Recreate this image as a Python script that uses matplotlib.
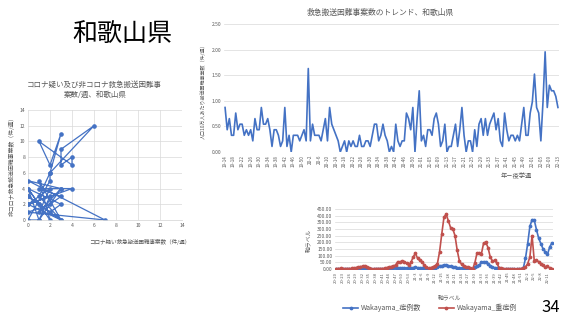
import matplotlib
matplotlib.use("Agg")
import matplotlib.pyplot as plt

plt.rcParams['font.family'] = ['Noto Sans CJK JP', 'DejaVu Sans']

# --- data ---
# scatter: corona-suspected vs non-corona cases per week (in order)
corona_x = [0, 1, 0, 2, 1, 3, 0, 2, 1, 3, 0, 7, 0, 2, 3, 1, 4, 0, 2, 1, 0, 2, 2, 6, 3,
            3, 4, 4, 1, 2, 3, 2, 1, 3, 0, 1, 2, 3, 0, 1, 3]
non_corona_y = [3, 2, 4, 0, 5, 0, 2, 4, 1, 4, 5, 0, 1, 2, 3, 4, 4, 2, 3, 0, 0, 5, 6, 12, 9,
                7, 8, 7, 10, 7, 11, 6, 3, 0, 3, 2, 1, 2, 4, 0, 4]

# trend: cases per week (per 100k = count * 0.1087), 19-14 .. 22-13
trend_counts = [8, 4, 6, 3, 3, 7, 4, 5, 5, 3, 4, 3, 4, 2, 6, 4, 4, 8, 5, 5,
                6, 4, 1, 4, 4, 3, 1, 2, 8, 1, 3, 0, 3, 3, 3, 2, 3, 4, 2, 15,
                2, 5, 3, 3, 3, 2, 4, 6, 2, 8, 5, 4, 3, 2, 0, 1, 2, 0, 2, 1,
                2, 1, 1, 3, 1, 1, 2, 2, 1, 3, 5, 5, 2, 3, 5, 3, 2, 0, 1, 0,
                5, 2, 1, 2, 2, 7, 6, 4, 8, 0, 6, 11, 2, 3, 1, 4, 4, 3, 6, 7,
                5, 1, 2, 5, 0, 1, 1, 3, 5, 1, 4, 8, 3, 0, 2, 2, 0, 4, 1, 5,
                6, 3, 6, 3, 5, 6, 7, 4, 6, 2, 1, 7, 4, 2, 3, 3, 2, 3, 2, 5,
                8, 3, 3, 7, 9, 14, 8, 7, 2, 9, 18, 8, 12, 11, 11, 10, 8]
trend_values = [c * 0.1087 for c in trend_counts]
trend_ticks = ["19-14", "19-18", "19-22", "19-26", "19-30", "19-34", "19-38", "19-42",
               "19-46", "19-50", "20-2", "20-6", "20-10", "20-14", "20-18", "20-22",
               "20-26", "20-30", "20-34", "20-38", "20-42", "20-46", "20-50", "21-01",
               "21-05", "21-09", "21-13", "21-17", "21-21", "21-25", "21-29", "21-33",
               "21-37", "21-41", "21-45", "21-49", "22-01", "22-05", "22-09", "22-13"]

# Wakayama weekly, 20-20 .. 22-13
cases = [1, 1, 1, 1, 1, 1, 1, 1, 1, 1, 1, 1, 1, 1, 1, 1, 1, 1, 1, 1,
         1, 1, 2, 3, 4, 5, 6, 8, 8, 8, 7, 6, 5, 5, 8, 10, 12, 10, 8, 6,
         4, 3, 2, 3, 5, 10, 15, 20, 25, 28, 28, 25, 20, 15, 12, 8, 6, 4, 3, 2,
         2, 1, 1, 15, 25, 28, 50, 55, 50, 40, 25, 15, 10, 6, 4, 2, 1, 1, 1, 1,
         1, 1, 1, 1, 1, 5, 80, 190, 320, 370, 365, 295, 230, 190, 150, 130, 110, 165, 195]
severe = [2, 3, 5, 3, 2, 3, 3, 4, 6, 10, 14, 18, 20, 25, 12, 5, 3, 2, 2, 3,
          3, 3, 5, 10, 15, 18, 22, 30, 55, 50, 60, 55, 45, 30, 50, 90, 118, 80, 65, 55,
          30, 15, 5, 10, 15, 25, 40, 130, 265, 390, 410, 360, 310, 300, 250, 140, 60, 35, 20, 15,
          15, 8, 2, 45, 120, 118, 115, 195, 200, 160, 90, 60, 65, 45, 10, 5, 3, 2, 2, 1,
          1, 1, 1, 1, 2, 5, 15, 40, 90, 250, 60, 65, 55, 40, 30, 15, 20, 8, 2]
weekly_ticks = ["20-20", "20-23", "20-26", "20-29", "20-32", "20-35", "20-38", "20-41",
                "20-44", "20-47", "20-50", "20-53", "21-3", "21-6", "21-9", "21-12",
                "21-15", "21-18", "21-21", "21-24", "21-27", "21-30", "21-33", "21-36",
                "21-39", "21-42", "21-45", "21-48", "21-51", "22-2", "22-5", "22-8", "22-11"]

W, H = 569, 320
BLUE = '#4472C4'
RED = '#C0504D'
GRAY = '#595959'
GRID = '#D9D9D9'


def box(left, top, right, bottom):
    return [left / W, 1 - bottom / H, (right - left) / W, (bottom - top) / H]


def txt(x, y, s, **kw):
    fig.text(x / W, 1 - y / H, s, **kw)


def style(ax):
    for s in ax.spines.values():
        s.set_visible(False)
    ax.tick_params(length=0, colors=GRAY, labelsize=3.6, pad=2)
    ax.set_axisbelow(True)


fig = plt.figure(figsize=(W / 100, H / 100), dpi=100)

txt(122, 35, "和歌山県", fontsize=18, ha='center', va='center', color='black')

# --- scatter (left) ---
ax1 = fig.add_axes(box(28, 110, 182, 220))
style(ax1)
ax1.plot(corona_x, non_corona_y, '-o', color=BLUE, lw=0.9, ms=2.3)
ax1.set_xlim(0, 14)
ax1.set_ylim(0, 14)
ax1.set_xticks(range(0, 15, 2))
ax1.set_yticks(range(0, 15, 2))
ax1.grid(True, color=GRID, lw=0.5)
ax1.plot([0, 14], [0, 0], color=GRID, lw=0.6, clip_on=False)
txt(94, 85, "コロナ疑い及び非コロナ救急搬送困難事", fontsize=5.4, ha='center', va='center', color=GRAY)
txt(95, 95, "案数/週、和歌山県", fontsize=5.4, ha='center', va='center', color=GRAY)
txt(12, 165, "非コロナ救急搬送困難事案数（件/週）", fontsize=4.2, rotation=90,
    ha='center', va='center', color=GRAY)
txt(190, 242, "コロナ疑い救急搬送困難事案数（件/週）", fontsize=4.0, ha='right',
    va='center', color=GRAY)

# --- trend (top right) ---
ax2 = fig.add_axes(box(224, 24, 559, 152))
style(ax2)
n = len(trend_values)
ax2.plot(range(n), trend_values, color=BLUE, lw=1.2)
ax2.set_xlim(-0.5, n - 0.5)
ax2.set_ylim(0, 2.5)
ax2.set_yticks([0, 0.5, 1.0, 1.5, 2.0, 2.5])
ax2.set_yticklabels(["0.00", "0.50", "1.00", "1.50", "2.00", "2.50"])
ax2.set_xticks(range(0, n, 4))
ax2.set_xticklabels(trend_ticks, rotation=90, fontsize=3.3)
ax2.grid(True, axis='y', color=GRID, lw=0.5)
ax2.axhline(0, color=GRID, lw=0.6)
txt(380, 13, "救急搬送困難事案数のトレンド、和歌山県", fontsize=5.6, ha='center',
    va='center', color=GRAY)
txt(203, 90, "人口10万人あたり搬送困難事案数（件/週）", fontsize=3.6, rotation=90,
    ha='center', va='center', color=GRAY)
txt(516, 176, "年－疫学週", fontsize=4.5, ha='center', va='center', color=GRAY)

# --- weekly cases (bottom right) ---
ax3 = fig.add_axes(box(335, 209, 553, 269))
style(ax3)
m = len(cases)
ax3.plot(range(m), cases, '-o', color=BLUE, lw=1.2, ms=1.7, label="Wakayama_症例数")
ax3.plot(range(m), severe, '-o', color=RED, lw=1.2, ms=1.7, label="Wakayama_重症例")
ax3.set_xlim(-0.5, m - 0.5)
ax3.set_ylim(0, 450)
ax3.set_yticks(range(0, 451, 50))
ax3.set_yticklabels([f"{v:.2f}" for v in range(0, 451, 50)])
ax3.set_xticks(range(0, m, 3))
ax3.set_xticklabels(weekly_ticks, rotation=90, fontsize=3.0)
ax3.grid(True, axis='y', color=GRID, lw=0.5)
ax3.axhline(0, color=GRID, lw=0.6)
txt(309, 240, "軸ラベル", fontsize=4.2, rotation=90, ha='center', va='center', color=GRAY)
txt(450, 298, "軸ラベル", fontsize=4.2, ha='center', va='center', color=GRAY)
fig.legend(*ax3.get_legend_handles_labels(), loc='center', ncol=2,
           bbox_to_anchor=(430 / W, 1 - 308 / H), frameon=False, fontsize=5,
           labelcolor=GRAY, handlelength=2.2, columnspacing=2.5, handletextpad=0.4)

txt(551, 307, "34", fontsize=12, ha='center', va='center', color='black')

fig.savefig("out.png", dpi=100)
